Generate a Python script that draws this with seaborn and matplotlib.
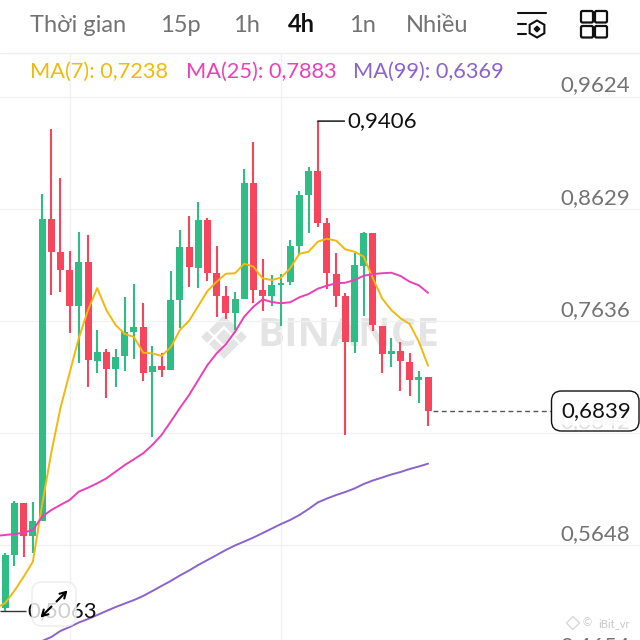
import numpy as np
import pandas as pd
import seaborn as sns
import matplotlib.pyplot as plt
from matplotlib.patches import FancyBboxPatch, Polygon, RegularPolygon, Rectangle

# candles, oldest first
opens = [.5090, .5559, .6018, .5730, .5861, .8538, .8245, .8086, .7769, .8160, .7279, .7356,
         .7211, .7321, .7536, .7578, .7179, .7235, .7197, .7820, .8290, .8106, .8526, .8059,
         .7853, .7707, .7829, .8860, .7909, .7858, .7956, .7977, .8299, .8751, .8964, .8500,
         .8053, .7855, .7450, .8124, .8414, .7592, .7344, .7365, .7273, .7108, .7137]
closes = [.5559, .6018, .5730, .5861, .8538, .8245, .8086, .7769, .8160, .7285, .7356, .7211,
          .7315, .7534, .7578, .7175, .7235, .7197, .7820, .8290, .8110, .8526, .8062, .7858,
          .7707, .7826, .8857, .7911, .7858, .7950, .7973, .8299, .8748, .8964, .8500, .8057,
          .7858, .7450, .8128, .8414, .7596, .7344, .7368, .7279, .7108, .7137, .6839]
highs = [.5577, .6038, .6018, .6029, .8757, .9333, .8899, .8252, .8420, .8396, .7554, .7383,
         .7383, .7849, .7962, .7791, .7415, .7347, .8077, .8441, .8562, .8691, .8547, .8301,
         .7944, .7888, .8984, .9218, .8186, .8042, .8048, .8352, .8786, .8996, .9406, .8544,
         .8237, .7882, .8234, .8423, .8414, .7592, .7483, .7448, .7347, .7191, .7137]
lows = [.5063, .5464, .5542, .5577, .5861, .7864, .7894, .7530, .7264, .7051, .7175, .6954,
        .7051, .7191, .7300, .7099, .6608, .7140, .7197, .7572, .7935, .7929, .7986, .7667,
        .7652, .7554, .7829, .7796, .7725, .7764, .7592, .7953, .8225, .8411, .8464, .7917,
        .7761, .6623, .7347, .7681, .7545, .7170, .7226, .7011, .6966, .6909, .6703]

# moving averages, ma7 and ma25 start one candle left of the screen
ma7 = [.5090, .5134, .5243, .5367, .5500, .6003, .6464, .6863, .7173, .7483, .7731, .7926, .7731,
       .7598, .7519, .7492, .7353, .7347, .7324, .7401, .7554, .7636, .7767, .7900, .7982,
       .8053, .8057, .8142, .8115, .8012, .7997, .8018, .8101, .8230, .8248, .8337, .8363,
       .8346, .8269, .8248, .8204, .8012, .7835, .7731, .7658, .7607, .7450, .7238]
ma25 = [.5728, .5737, .5745, .5757, .5781, .5899, .5958, .6003, .6047, .6121, .6156, .6195, .6239,
        .6298, .6357, .6408, .6461, .6535, .6623, .6741, .6863, .6978, .7111, .7244, .7347,
        .7427, .7539, .7672, .7761, .7826, .7802, .7791, .7800, .7844, .7873, .7920, .7947,
        .7968, .7973, .7997, .8035, .8050, .8057, .8062, .8033, .7982, .7950, .7883]
ma99 = [.4797, .4832, .4886, .4921, .4961, .4992, .5027, .5063, .5098, .5129, .5160, .5196, .5240,
        .5285, .5329, .5378, .5422, .5471, .5515, .5559, .5604, .5644, .5679, .5714, .5754,
        .5794, .5834, .5870, .5914, .5967, .6025, .6060, .6091, .6118, .6149, .6189, .6220,
        .6246, .6273, .6295, .6322, .6344, .6369]

grid_prices = [.9624, .8629, .7636, .6642, .5648, .4654]
price_labels = ['0,9624', '0,8629', '0,7636', '0,6642', '0,5648', '0,4654']
grid_candles = [7, 30]
tabs = ['Thời gian', '15p', '1h', '4h', '1n', 'Nhiều']

GREEN = '#2EBD85'
RED = '#F6465D'
YELLOW = '#F0B90B'
PINK = '#EB40B5'
PURPLE = '#8A63CC'
GREY = '#737373'

sns.set_theme(style='white')
plt.rcParams['font.family'] = ['Lato', 'DejaVu Sans']

fig = plt.figure(figsize=(6.4, 6.4), dpi=100)

# pixel space axes for the app furniture, one under the chart and one over it
back = fig.add_axes([0, 0, 1, 1], zorder=0)
ax = fig.add_axes([0, 0, 1, 1], zorder=1)
over = fig.add_axes([0, 0, 1, 1], zorder=2)
for a in (back, over):
    a.set_xlim(0, 640)
    a.set_ylim(640, 0)
    a.axis('off')
    a.patch.set_alpha(0)

step = 9.19
ax.patch.set_alpha(0)
for s in ax.spines.values():
    s.set_visible(False)

ax.set_yticks(grid_prices)
ax.set_xticks(grid_candles)
ax.tick_params(left=False, bottom=False, labelleft=False, labelbottom=False)
ax.grid(True, color='#F1F1F1', lw=1)
ax.set_axisbelow(True)

# watermark
back.text(348, 336, 'BINANCE', fontsize=29, fontweight='bold', family='Open Sans', color='#E4E4E4',
          ha='center', va='center')
cx, cy = 224, 337
for dx, r in [(0, 7), (-17, 5), (17, 5)]:
    back.add_patch(RegularPolygon((cx + dx, cy), 4, radius=r, color='#E4E4E4'))
for sign in (1, -1):
    pts = [(0, -21), (14, -7), (9.7, -2.7), (0, -12.5), (-9.7, -2.7), (-14, -7)]
    back.add_patch(Polygon([(cx + x, cy + sign * y) for x, y in pts], color='#E4E4E4'))

# candles
idx = np.arange(len(opens))
op = np.array(opens)
cl = np.array(closes)
colors = [GREEN if c >= o else RED for o, c in zip(op, cl)]
ax.vlines(idx, lows, highs, colors=colors, lw=1.5, zorder=2)
ax.bar(idx, np.abs(cl - op), bottom=np.minimum(op, cl), width=0.76, color=colors, lw=0, zorder=3)

# moving averages
frames = []
for name, vals in [('MA7', ma7), ('MA25', ma25), ('MA99', ma99)]:
    start = len(opens) - len(vals)
    frames.append(pd.DataFrame({'i': np.arange(start, len(opens)), 'price': vals, 'ma': name}))
ma_df = pd.concat(frames)
sns.lineplot(data=ma_df, x='i', y='price', hue='ma', ax=ax, legend=False, lw=1.4, errorbar=None,
             palette={'MA7': YELLOW, 'MA25': PINK, 'MA99': PURPLE}, zorder=4)
ax.set_xlabel('')
ax.set_ylabel('')

# limits last, set_yticks widens them otherwise
ax.set_xlim(-5.3 / step, (640 - 5.3) / step)
ax.set_ylim(0.48058, 1.04795)

# price scale labels sit just above their grid lines
for price, label in zip(grid_prices, price_labels):
    ax.annotate(label, xy=(1, price), xycoords=ax.get_yaxis_transform(), xytext=(-7.2, 8),
                textcoords='offset points', ha='right', va='center', fontsize=16,
                color='#DDDDDD' if label == '0,6642' else GREY, zorder=5, annotation_clip=False)

# high / low markers
hi = np.argmax(highs)
ax.annotate('0,9406', xy=(hi, highs[hi]), xytext=(30 * 0.72, 0), textcoords='offset points',
            fontsize=16, color='#111111', va='center', ha='left', zorder=5,
            arrowprops=dict(arrowstyle='-', color='black', lw=1, shrinkA=0, shrinkB=0))
ax.hlines(lows[0], ax.get_xlim()[0], 2.3, color='#333333', lw=1, zorder=5)
ax.annotate('0,5063', xy=(2.3, lows[0]), xytext=(1, 0), textcoords='offset points',
            fontsize=16, color='#111111', va='center', ha='left', zorder=5)

# last price line and box
ax.hlines(closes[-1], 46.5, (551 - 5.3) / step, color='#555555', lw=1, ls=(0, (3.5, 2.5)), zorder=5)
over.add_patch(FancyBboxPatch((558, 397), 75, 28, boxstyle='round,pad=0,rounding_size=7',
                              mutation_aspect=1, fc='white', ec='none', alpha=0.8))
over.add_patch(FancyBboxPatch((557.5, 397), 75.5, 28, boxstyle='round,pad=6,rounding_size=10',
                              fc='none', ec='#111111', lw=1))
over.text(596, 411.5, '0,6839', fontsize=16, color='#111111', ha='center', va='center')

# header
over.add_patch(Rectangle((0, 0), 640, 53, fc='white', ec='none'))
over.plot([0, 640], [53, 53], color='#EEEEEE', lw=1)
for x, tab in zip([30, 160, 233, 288, 349, 406], tabs):
    active = tab == '4h'
    over.text(x, 25, tab, fontsize=17, color='#111111' if active else GREY, va='center',
              fontweight='bold' if active else 'normal')
for x, txt, col in [(30, 'MA(7): 0,7238', YELLOW), (186, 'MA(25): 0,7883', PINK),
                    (353, 'MA(99): 0,6369', PURPLE)]:
    over.text(x, 72, txt, fontsize=15.7, color=col, va='center')

# toolbar icons
k = '#111111'
over.plot([518, 546], [13, 13], color=k, lw=1.5)
over.plot([518, 526], [23.5, 23.5], color=k, lw=1.5)
over.plot([518, 526], [34, 34], color=k, lw=1.5)
over.add_patch(RegularPolygon((537, 29), 6, radius=8.5, fc='none', ec=k, lw=1.5))
over.add_patch(RegularPolygon((537, 29), 4, radius=2.8, color=k))
for x in (581, 595):
    for y in (11, 26):
        over.add_patch(FancyBboxPatch((x + 1, y + 1), 10, 9.5, boxstyle='round,pad=1,rounding_size=1.5',
                                      fc='none', ec=k, lw=1.6))

# expand button
over.add_patch(FancyBboxPatch((38, 588), 32, 32, boxstyle='round,pad=6,rounding_size=10',
                              fc='white', ec='#EBEBEB', lw=1.2, alpha=0.8))
for start, end in [((56.5, 601.5), (67.5, 590.5)), ((51.5, 606.5), (40.5, 617.5))]:
    over.annotate('', xy=end, xytext=start,
                  arrowprops=dict(arrowstyle='->,head_length=0.35,head_width=0.2', color='black',
                                  lw=1.5, shrinkA=0, shrinkB=0))

# repost credit
over.add_patch(RegularPolygon((573, 623), 4, radius=6.5, fc='none', ec='#D5D5D5', lw=0.9))
over.text(587, 622.5, '©', fontsize=8, color='#C8C8C8', ha='center', va='center')
over.text(598, 624, 'iBit_vr', fontsize=8, color='#C8C8C8', va='center')

fig.savefig('out.png', dpi=100)
